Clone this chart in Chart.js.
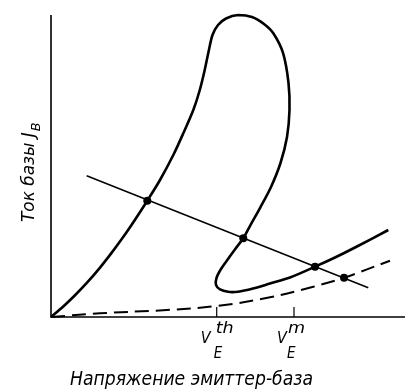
<!DOCTYPE html>
<html><head><meta charset="utf-8">
<script src="https://cdn.jsdelivr.net/npm/chart.js@4/dist/chart.umd.min.js"></script>
<style>html,body{margin:0;padding:0;background:#fff}canvas{display:block}</style>
</head><body>
<canvas id="c" width="405" height="389"></canvas>
<script>
// Input characteristic J_B(V_EB) – solid curve (x, y) pairs, arbitrary units
const mainX = [0, 0.339, 0.678, 1.017, 1.356, 1.695, 2.034, 2.373, 2.720, 3.079, 3.455, 3.737, 4.020, 4.195, 4.336, 4.449, 4.562, 4.718, 4.944, 5.282, 5.678, 6.017, 6.280, 6.554, 6.709, 6.737, 6.667, 6.483, 6.215, 5.904, 5.650, 5.432, 5.226, 5.000, 4.802, 4.675, 4.661, 4.774, 5.000, 5.282, 5.706, 6.186, 6.751, 7.458, 8.023, 8.588, 9.528];
const mainY = [0, 0.338, 0.719, 1.136, 1.596, 2.099, 2.639, 3.222, 3.851, 4.536, 5.364, 6.083, 6.854, 7.483, 8.146, 8.775, 9.338, 9.669, 9.884, 10.0, 9.934, 9.702, 9.394, 8.742, 7.748, 6.854, 5.960, 5.099, 4.305, 3.609, 3.079, 2.606, 2.285, 1.921, 1.589, 1.291, 1.060, 0.911, 0.834, 0.838, 0.944, 1.109, 1.308, 1.666, 1.970, 2.301, 2.881];
// dashed curve
const dashX = [0, 1.384, 3.268, 4.681, 6.186, 7.410, 8.277, 9.576];
const dashY = [0, 0.123, 0.232, 0.364, 0.652, 1.003, 1.301, 1.864];
// load line
const loadX = [1.008, 8.963];
const loadY = [4.679, 0.970];
// operating points
const dotX = [2.720, 5.432, 7.458, 8.277];
const dotY = [3.851, 2.606, 1.665, 1.301];
// axis marks
const tickVals = [4.681, 6.864];
const tickSup = ['th', 'm'];
const tickMain = 'V';
const tickSub = 'E';
const xTitle = 'Напряжение эмиттер-база';
const yTitle = 'Ток базы J';
const yTitleSub = 'B';

const pts = (xs, ys) => xs.map((x, i) => ({x, y: ys[i]}));
const FONT = '"DejaVu Sans Condensed","Liberation Sans Narrow","Liberation Sans",sans-serif';

const deco = {
  id: 'deco',
  afterDraw(chart) {
    const ctx = chart.ctx, xs = chart.scales.x, ys = chart.scales.y;
    const x0 = xs.getPixelForValue(0), y0 = ys.getPixelForValue(0);
    const yTop = ys.getPixelForValue(ys.max), xR = xs.getPixelForValue(xs.max);
    ctx.save();
    ctx.strokeStyle = '#000'; ctx.fillStyle = '#000';
    ctx.lineWidth = 1.6;
    ctx.beginPath();
    ctx.moveTo(x0, yTop); ctx.lineTo(x0, y0); ctx.lineTo(xR, y0);
    ctx.stroke();
    ctx.lineWidth = 1.2;
    const supDx = [-1, -6];
    const vDx = [-16, -17];
    const eDx = [-3, -7];
    tickVals.forEach((v, i) => {
      const px = xs.getPixelForValue(v);
      ctx.beginPath(); ctx.moveTo(px, y0); ctx.lineTo(px, y0 - 10); ctx.stroke();
      ctx.textBaseline = 'alphabetic'; ctx.textAlign = 'left';
      ctx.font = 'italic 16px ' + FONT;
      ctx.fillText(tickMain, px + vDx[i], y0 + 26);
      ctx.save();
      ctx.font = 'italic 15px ' + FONT;
      ctx.translate(px + supDx[i], y0 + 16);
      ctx.scale(1.3, 1);
      ctx.fillText(tickSup[i], 0, 0);
      ctx.restore();
      ctx.font = 'italic 15px ' + FONT;
      ctx.fillText(tickSub, px + eDx[i], y0 + 41);
    });
    // x title
    ctx.font = 'italic 19px ' + FONT;
    ctx.textAlign = 'left';
    const w = ctx.measureText(xTitle).width;
    const target = 243;
    ctx.save();
    ctx.translate(70, 385);
    ctx.scale(target / w, 1);
    ctx.fillText(xTitle, 0, 0);
    ctx.restore();
    // y title
    ctx.save();
    ctx.translate(39, 222);
    ctx.rotate(-Math.PI / 2);
    ctx.font = 'italic 17px ' + FONT;
    const w1 = ctx.measureText(yTitle).width;
    const w2 = ctx.measureText(yTitleSub).width * 0.8;
    const sc = 99 / (w1 + w2);
    ctx.scale(sc, 1);
    ctx.fillText(yTitle, 0, -5);
    ctx.font = 'italic 13px ' + FONT;
    ctx.fillText(yTitleSub, w1 + 1, 1);
    ctx.restore();
    ctx.restore();
  }
};

new Chart(document.getElementById('c'), {
  type: 'scatter',
  data: {
    datasets: [
      {data: pts(mainX, mainY), showLine: true, borderColor: '#000', borderWidth: 2.6, pointRadius: 0, tension: 0.3, clip: false, fill: false},
      {data: pts(dashX, dashY), showLine: true, borderColor: '#000', borderWidth: 2, borderDash: [14, 7], pointRadius: 0, tension: 0.4, clip: false},
      {data: pts(loadX, loadY), showLine: true, borderColor: '#000', borderWidth: 1.5, pointRadius: 0, tension: 0, clip: false},
      {data: pts(dotX, dotY), showLine: false, pointRadius: 4, pointBackgroundColor: '#000', pointBorderColor: '#000', pointBorderWidth: 0, clip: false}
    ]
  },
  options: {
    responsive: false,
    devicePixelRatio: 1,
    animation: false,
    events: [],
    layout: {autoPadding: false, padding: {left: 51, top: 15, right: 0, bottom: 72}},
    plugins: {legend: {display: false}, tooltip: {enabled: false}, title: {display: false}},
    scales: {
      x: {type: 'linear', min: 0, max: 10, display: false},
      y: {type: 'linear', min: 0, max: 10, display: false}
    }
  },
  plugins: [deco]
});
</script>
</body></html>
